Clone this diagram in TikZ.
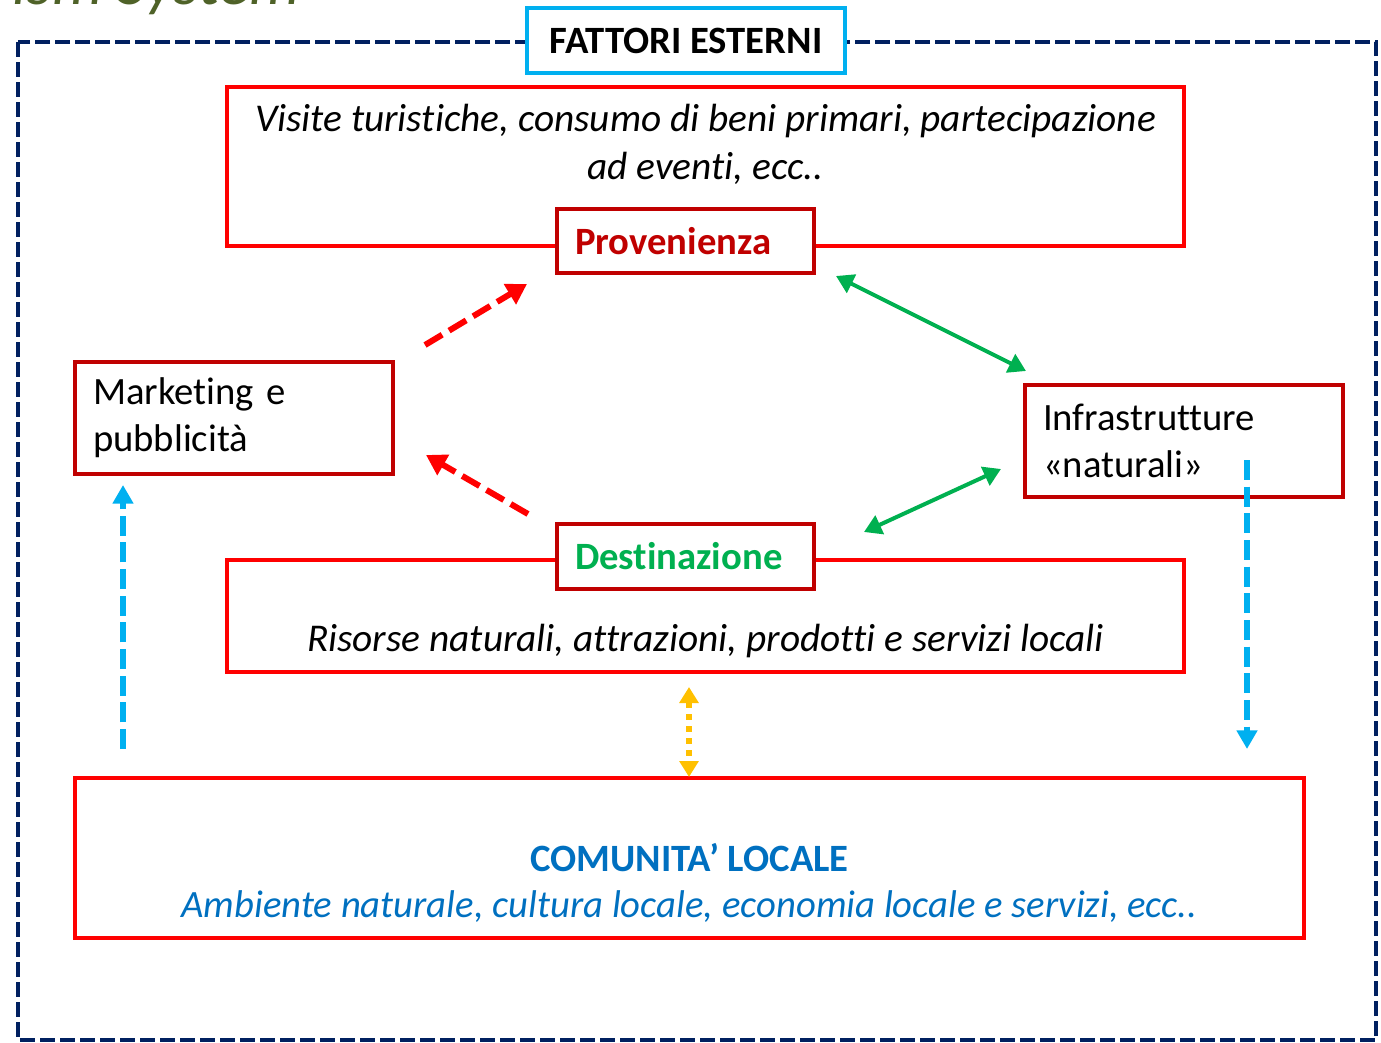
\documentclass[tikz,border=0pt]{standalone}
\usepackage{fontspec}
\setmainfont{Carlito}[Ligatures=NoCommon,RawFeature={-calt}]
\usetikzlibrary{arrows.meta}
\definecolor{navy}{HTML}{002060}
\definecolor{azzurro}{HTML}{00B0F0}
\definecolor{rosso}{HTML}{FF0000}
\definecolor{scuro}{HTML}{C00000}
\definecolor{verde}{HTML}{00B050}
\definecolor{blu}{HTML}{0070C0}
\definecolor{giallo}{HTML}{FFC000}
\definecolor{oliva}{HTML}{4F6228}

\begin{document}
\begin{tikzpicture}[
      x=0.75pt, y=-0.75pt,
      font=\fontsize{29}{35}\selectfont,
      frame/.style={draw=navy,line width=2.5pt,dash pattern=on 11pt off 4pt},
      headbox/.style={draw=azzurro,line width=2.5pt,fill=white,minimum width=238.5pt,minimum height=48.75pt,font=\fontsize{29}{35}\selectfont\bfseries},
      areabox/.style={draw=rosso,line width=2.4pt,minimum width=717.75pt},
      keybox/.style={draw=scuro,line width=3pt,fill=white,inner xsep=13.5pt,text width=165.75pt,align=left,minimum height=48.5pt,font=\fontsize{29}{35}\selectfont\bfseries},
      sidebox/.style={draw=scuro,line width=3pt,fill=white,inner xsep=13.5pt,text width=211.5pt,align=left,minimum height=84pt},
      push/.style={rosso,line width=4.5pt,dash pattern=on 15pt off 6pt,-{Triangle[length=15pt,width=17pt]}},
      link/.style={verde,line width=3pt,{Triangle[length=13pt,width=15pt]}-{Triangle[length=13pt,width=15pt]}},
      bond/.style={giallo,line width=4pt,dash pattern=on 4.5pt off 4.5pt,{Triangle[length=12pt,width=14pt]}-{Triangle[length=12pt,width=14pt]}},
      feed/.style={azzurro,line width=4pt,dash pattern=on 15pt off 5pt,-{Triangle[length=14pt,width=15pt]}}
    ]
    \useasboundingbox (0,0) rectangle (1381,1042);
    % Draw the cut title.
    \begin{scope}
      \clip (0,0) rectangle (1381,1042);
      \node[anchor=base east,text=oliva,font=\fontsize{48}{56}\selectfont\itshape] (titolo) at (305,4) {Tourism System};
    \end{scope}
    % Draw the outer frame.
    \draw[frame] (18,42) rectangle (1376,1040);
    \node[headbox] (fattori) at (686,40.5) {FATTORI ESTERNI};
    % Draw the areas.
    \node[areabox,minimum height=119.25pt] (origine) at (705.5,166.5) {};
    \node[align=center,font=\fontsize{29.5}{36}\selectfont\itshape] (visite) at (705.5,144) {Visite turistiche, consumo di beni primari, partecipazione\\ad eventi, ecc..};
    \node[keybox,text=scuro] (prov) at (685.5,241) {Provenienza};
    \node[areabox,minimum height=84pt] (meta) at (705.5,616) {};
    \node[font=\fontsize{29.5}{35}\selectfont\itshape] (risorse) at (705.5,641) {Risorse naturali, attrazioni, prodotti e servizi locali};
    \node[keybox,text=verde] (dest) at (685.5,556.5) {Destinazione};
    \node[sidebox] (mkt) at (234,418) {Marketing e\\pubblicità};
    \node[sidebox] (infra) at (1184,441) {Infrastrutture\\«naturali»};
    \node[draw=rosso,line width=2.4pt,minimum width=921.75pt,minimum height=120pt] (comunita) at (689.5,858) {};
    \node[align=center,text=blu] (comtesto) at (689.5,883) {\textbf{COMUNITA’ LOCALE}\\\textit{Ambiente naturale, cultura locale, economia locale e servizi, ecc..}};
    % Draw the free ends.
    \coordinate (r1a) at (425,345); \coordinate (r1b) at (527,284);
    \coordinate (r2a) at (528,514); \coordinate (r2b) at (426,455);
    \coordinate (g1a) at (836,276); \coordinate (g1b) at (1026,371);
    \coordinate (g2a) at (864,532); \coordinate (g2b) at (1001,469);
    \coordinate (y1a) at (689,687); \coordinate (y1b) at (689,777);
    \coordinate (c1a) at (123,749); \coordinate (c1b) at (123,485);
    \coordinate (c2a) at (1247,460); \coordinate (c2b) at (1247,749);
    % Draw the flows.
    \draw[push] (r1a) -- (r1b);
    \draw[push] (r2a) -- (r2b);
    \draw[link] (g1a) -- (g1b);
    \draw[link] (g2a) -- (g2b);
    \draw[bond] (y1a) -- (y1b);
    \draw[feed] (c1a) -- (c1b);
    \draw[feed] (c2a) -- (c2b);
\end{tikzpicture}
\end{document}
